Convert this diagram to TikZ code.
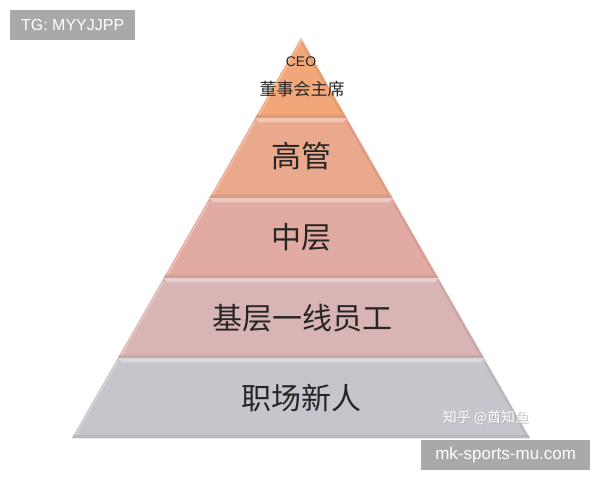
\documentclass[tikz,border=0pt]{standalone}
\usepackage{fontspec}
\setmainfont{Liberation Sans}
\newfontfamily\cjk{Noto Sans CJK SC}
\usetikzlibrary{calc}
\definecolor{ceocol}{HTML}{F1A77A}
\definecolor{gaocol}{HTML}{EAA88C}
\definecolor{zhongcol}{HTML}{E2ABA1}
\definecolor{jicol}{HTML}{D9B4B4}
\definecolor{xincol}{HTML}{C5C5CB}
\definecolor{wmgray}{HTML}{A9A9A9}
\tikzset{
  wmbox/.style={fill=wmgray,text=white,inner sep=0pt,anchor=north west},
  layertext/.style={font=\cjk\fontsize{30}{32}\selectfont,text=black!85}
}
\begin{document}
\begin{tikzpicture}[x=1pt,y=-1pt]
	\useasboundingbox[fill=white] (0,0) rectangle (600,480);
	\coordinate (apex) at (301,38);
	\coordinate (bl) at (72,438);
	\coordinate (br) at (530,438);
	% layers, top to bottom
	\foreach \t/\b/\col in {0/0.2/ceocol,0.2/0.4/gaocol,0.4/0.6/zhongcol,0.6/0.8/jicol,0.8/1/xincol}{
		\pgfmathsetmacro\hi{\t+0.011}
		\pgfmathsetmacro\lo{\b-0.008}
		\fill[\col] ($(apex)!\t!(bl)$) -- ($(apex)!\b!(bl)$) -- ($(apex)!\b!(br)$) -- ($(apex)!\t!(br)$) -- cycle;
		\fill[\col!65!white] ($(apex)!\t!(bl)$) -- ($(apex)!\hi!(bl)+(6,0)$) -- ($(apex)!\hi!(br)+(-6,0)$) -- ($(apex)!\t!(br)$) -- cycle;
		\fill[\col!93!black] ($(apex)!\lo!(bl)$) -- ($(apex)!\b!(bl)$) -- ($(apex)!\b!(br)$) -- ($(apex)!\lo!(br)$) -- cycle;
		\draw[\col!75!white,line width=1.5pt] ($(apex)!\hi!(bl)+(2,0)$) -- ($(apex)!\lo!(bl)+(2,0)$);
		\draw[\col!92!black,line width=1.5pt] ($(apex)!\hi!(br)+(-2,0)$) -- ($(apex)!\lo!(br)+(-2,0)$);
	}
	% labels
	\node[font=\fontsize{14}{16}\selectfont,text=black!85] (ceo) at (301,62) {CEO};
	\node[font=\cjk\fontsize{17}{19}\selectfont,text=black!85] (chair) at (302,89) {董事会主席};
	\node[layertext] (gaoguan) at (301,156) {高管};
	\node[layertext] (zhongceng) at (301,237) {中层};
	\node[layertext] (jiceng) at (302,318) {基层一线员工};
	\node[layertext] (xinren) at (301,398) {职场新人};
	\node[font=\cjk\fontsize{14}{16}\selectfont,text=gray!60] (zhihushadow) at (486.8,418.8) {知乎 @酋知鱼};
	\node[font=\cjk\fontsize{14}{16}\selectfont,text=white] (zhihu) at (486,418) {知乎 @酋知鱼};
	% watermark boxes
	\node[wmbox,minimum width=125pt,minimum height=30pt,font=\fontsize{16}{18}\selectfont] (tg) at (10,10) {TG: MYYJJPP};
	\node[wmbox,minimum width=169pt,minimum height=30pt,font=\fontsize{17}{19}\selectfont] (site) at (421,440) {mk-sports-mu.com};
\end{tikzpicture}
\end{document}
